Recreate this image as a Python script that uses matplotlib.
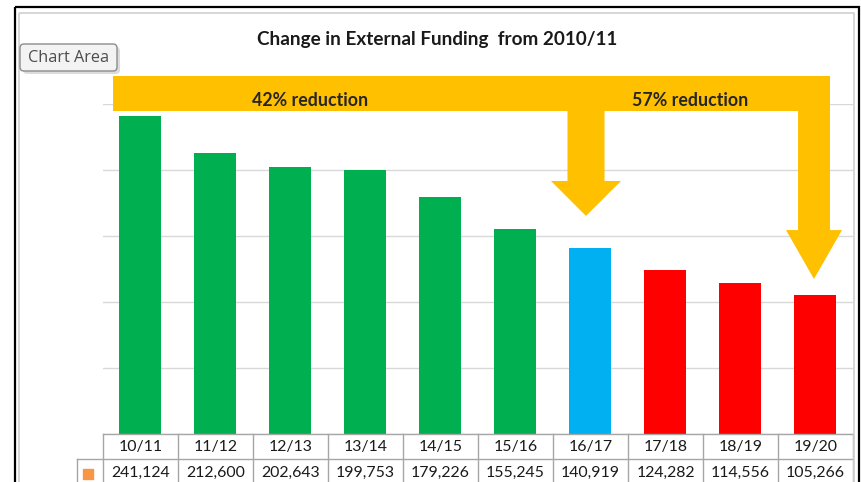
import matplotlib
matplotlib.use("Agg")
import matplotlib.pyplot as plt
from matplotlib.patches import Polygon, Rectangle, FancyBboxPatch
import matplotlib.transforms as mtransforms

# ---- data ----
categories = ["10/11", "11/12", "12/13", "13/14", "14/15", "15/16", "16/17", "17/18", "18/19", "19/20"]
values = [241124, 212600, 202643, 199753, 179226, 155245, 140919, 124282, 114556, 105266]
bar_colors = ["#00B050"] * 6 + ["#00B0F0"] + ["#FF0000"] * 3
title = "Change in External Funding  from 2010/11"
notes = ["42% reduction", "57% reduction"]

plt.rcParams['font.family'] = ['Lato', 'DejaVu Sans']

W, H = 862, 482
fig = plt.figure(figsize=(8.62, 4.82), dpi=100)
fig.patch.set_facecolor("white")

# pixel transform (y down) for decorative frame
pix = mtransforms.Affine2D().scale(1 / W, -1 / H).translate(0, 1) + fig.transFigure

ax = fig.add_axes([103 / W, 1 - 434 / H, 750 / W, 330 / H])
ax.set_xlim(-0.5, 9.5)
ax.set_ylim(0, 250000)
ax.bar(range(len(values)), values, width=0.56, color=bar_colors, zorder=2)
ax.set_yticks(range(0, 250001, 50000))
ax.yaxis.grid(True, color="#D9D9D9", lw=1, zorder=0)
ax.set_axisbelow(True)
ax.tick_params(left=False, bottom=False, labelleft=False, labelbottom=False)
for s in ax.spines.values():
    s.set_visible(False)

# ---- data table ----
trans = mtransforms.blended_transform_factory(ax.transData, ax.transAxes)
def ay(py):
    return (434 - py) / 330.0

lk = dict(color="#A6A6A6", lw=1, transform=trans, clip_on=False)
n = len(categories)
ax.plot([-0.5, n - 0.5], [0, 0], **lk)
ax.plot([-0.85, n - 0.5], [ay(459)] * 2, **lk)
for i in range(n + 1):
    ax.plot([i - 0.5] * 2, [0, ay(495)], **lk)
ax.plot([-0.85] * 2, [ay(459), ay(495)], **lk)
for i, (c, v) in enumerate(zip(categories, values)):
    ax.text(i, ay(447), c, ha='center', va='center', transform=trans,
            fontsize=11.4, color="#1a1a1a", clip_on=False)
    ax.text(i, ay(473), f"{v:,}", ha='center', va='center', transform=trans,
            fontsize=11.4, color="#1a1a1a", clip_on=False)
ax.plot([-0.7], [ay(474)], marker='s', ms=6.5, color='#F79646', mec='#F79646',
        transform=trans, clip_on=False)

# ---- arrows ----
arrow_color = "#FFC000"
band_top, band_bot = 271200, 244700
band = Polygon([(-0.367, band_top), (9.193, band_top), (9.193, band_bot), (-0.367, band_bot)],
               closed=True, fc=arrow_color, ec='none', clip_on=False, zorder=3)
ax.add_patch(band)

def down_arrow(cx, shaft_hw, head_hw, shaft_bot, tip):
    return Polygon([(cx - shaft_hw, band_bot + 1000), (cx + shaft_hw, band_bot + 1000),
                    (cx + shaft_hw, shaft_bot), (cx + head_hw, shaft_bot),
                    (cx, tip), (cx - head_hw, shaft_bot), (cx - shaft_hw, shaft_bot)],
                   closed=True, fc=arrow_color, ec='none', clip_on=False, zorder=3)

ax.add_patch(down_arrow(5.94, 0.247, 0.467, 191700, 165200))
ax.add_patch(down_arrow(8.98, 0.213, 0.373, 154500, 117400))

ax.text(2.26, 253000, notes[0], ha='center', va='center', fontsize=12.8,
        fontweight='bold', color="#262626", zorder=4, clip_on=False)
ax.text(7.33, 252300, notes[1], ha='center', va='center', fontsize=12.8,
        fontweight='bold', color="#262626", zorder=4, clip_on=False)

# ---- title ----
fig.text(437 / W, 1 - 40 / H, title, ha='center', va='center', fontsize=13.6,
         fontweight='bold', color="#1a1a1a")

# ---- frame ----
fig.add_artist(Rectangle((19, 13), 835, 490, transform=pix, fill=False,
                         ec="#D0D0D0", lw=1.2))
fig.add_artist(Rectangle((15.5, 6.5), 843.5, 490, transform=pix, fill=False,
                         ec="black", lw=1.6))

# ---- "Chart Area" tooltip ----
fig.add_artist(FancyBboxPatch((23, 47), 97, 27, boxstyle="round,pad=0,rounding_size=4",
                              transform=pix, fc="#BBBBBB", ec="none", alpha=0.5))
fig.add_artist(FancyBboxPatch((20, 44), 97, 27, boxstyle="round,pad=0,rounding_size=4",
                              transform=pix, fc="#F3F3F3", ec="#8C8C8C", lw=1))
fig.text(68.5 / W, 1 - 58 / H, "Chart Area", ha='center', va='center', fontsize=11.7,
         color="#4D4D4D", family=['Open Sans', 'DejaVu Sans'])

fig.savefig("out.png", dpi=100)
